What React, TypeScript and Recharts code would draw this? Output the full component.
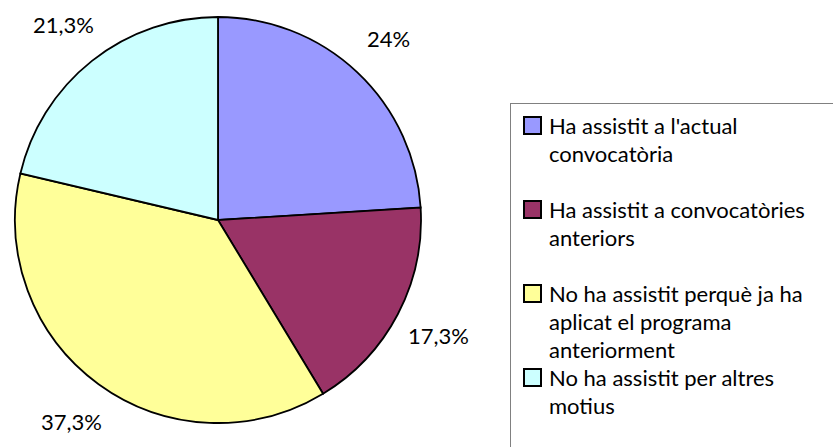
import { PieChart, Pie, Cell, Legend } from 'recharts';

// answer categories, clockwise from 12 o'clock
const categories = [
  "Ha assistit a l'actual convocatòria",
  'Ha assistit a convocatòries anteriors',
  'No ha assistit perquè ja ha aplicat el programa anteriorment',
  'No ha assistit per altres motius',
];
const shares = [24, 17.3, 37.3, 21.3];
const colors = ['#9999FF', '#993366', '#FFFF99', '#CCFFFF'];

const FONT = 'Lato, "Open Sans", sans-serif';
const RAD = Math.PI / 180;

const data = categories.map((name, i) => ({ name, value: shares[i] }));

const fmt = (v: number) => String(v).replace('.', ',') + '%';

function renderLabel(props: any) {
  const { cx, cy, midAngle, outerRadius, value } = props;
  const r = outerRadius + 46;
  const x = cx + r * Math.cos(-midAngle * RAD);
  const y = cy + r * Math.sin(-midAngle * RAD);
  return (
    <text x={x} y={y} textAnchor="middle" dominantBaseline="central"
      fill="#000" fontSize={22} fontFamily={FONT}>
      {fmt(value)}
    </text>
  );
}

function LegendBox() {
  return (
    <div style={{
      position: 'relative', width: '100%', height: '100%', boxSizing: 'border-box',
      border: '1px solid #808080', background: '#fff', fontFamily: FONT,
    }}>
      {categories.map((name, i) => (
        <div key={name} style={{ position: 'absolute', left: 12, top: 8 + i * 84 }}>
          <div style={{
            position: 'absolute', left: 0, top: 4, width: 19, height: 19,
            boxSizing: 'border-box', border: '2px solid #000', background: colors[i],
          }} />
          <div style={{
            position: 'absolute', left: 26, top: 0, width: 290,
            fontSize: 22, lineHeight: '28px', color: '#000', textAlign: 'left',
          }}>
            {name}
          </div>
        </div>
      ))}
    </div>
  );
}

export default function App() {
  return (
    <div style={{
      position: 'absolute', left: 0, top: 0, width: 833, height: 447,
      overflow: 'hidden', background: '#fff',
    }}>
      <PieChart width={833} height={447} margin={{ top: 0, right: 0, bottom: 0, left: 0 }}>
        <Pie
          data={data}
          dataKey="value"
          nameKey="name"
          cx={218}
          cy={220}
          outerRadius={203}
          startAngle={90}
          endAngle={-270}
          stroke="#000"
          strokeWidth={1.8}
          label={renderLabel}
          labelLine={false}
          isAnimationActive={false}
        >
          {data.map((d, i) => (
            <Cell key={d.name} fill={colors[i]} />
          ))}
        </Pie>
        <Legend
          content={() => <LegendBox />}
          wrapperStyle={{ position: 'absolute', left: 510, top: 103, width: 340, height: 360, bottom: 'auto' }}
        />
      </PieChart>
    </div>
  );
}
